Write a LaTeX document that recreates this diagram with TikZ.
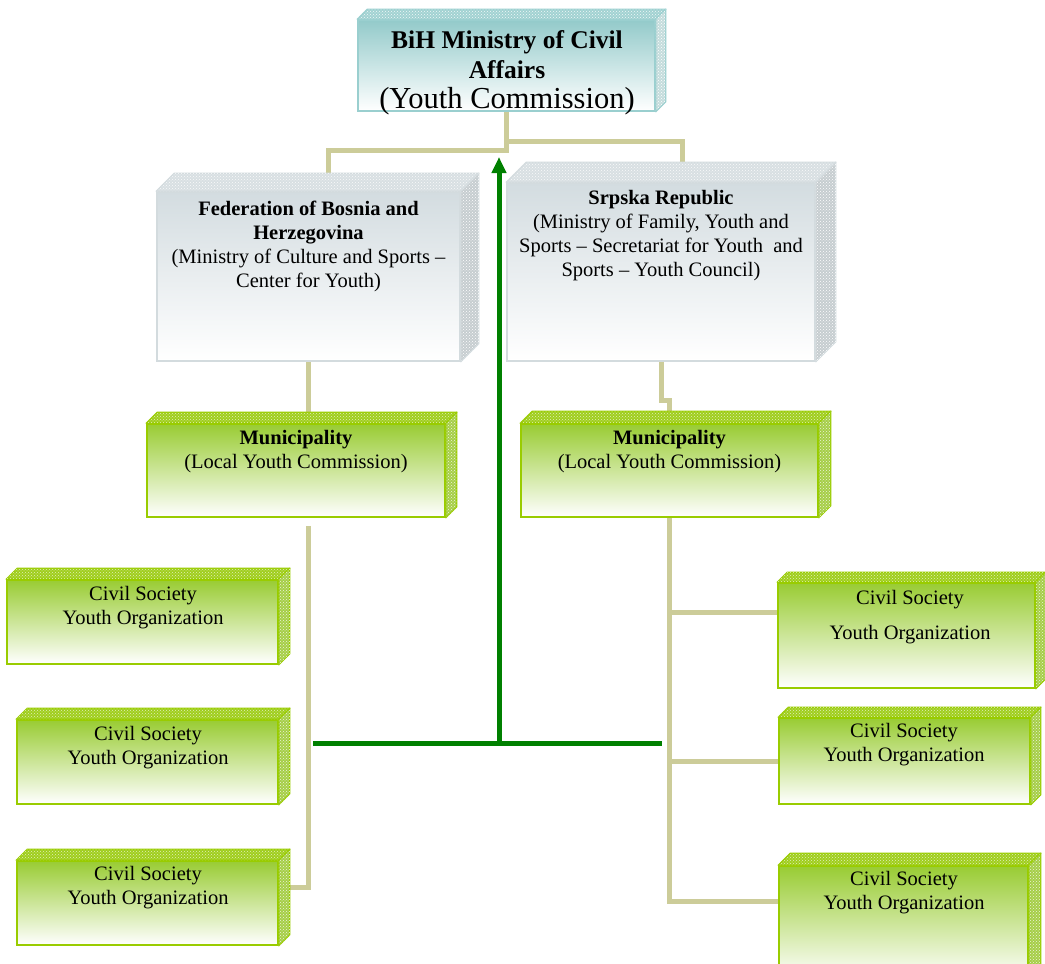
\documentclass[tikz,border=0pt]{standalone}
\usepackage{fontspec}
\setmainfont{Liberation Serif}
\usetikzlibrary{calc,arrows.meta,patterns,backgrounds}
\definecolor{conncol}{HTML}{CCCC99}
\definecolor{arrowgreen}{HTML}{008000}
\definecolor{tealtop}{HTML}{93CACA}
\definecolor{tealedge}{HTML}{9ACFCF}
\definecolor{tealface}{HTML}{A2D2D2}
\definecolor{tealside}{HTML}{C4DCDC}
\definecolor{graytop}{HTML}{D3DCE0}
\definecolor{grayedge}{HTML}{D3DBDE}
\definecolor{grayface}{HTML}{D8DFE2}
\definecolor{grayside}{HTML}{C6CDD0}
\definecolor{greentop}{HTML}{99CC33}
\definecolor{greenedge}{HTML}{99CC00}
\definecolor{greenface}{HTML}{A0CE1E}
\definecolor{greenside}{HTML}{A6CE48}
\tikzset{
  x=1pt, y=-1pt,
  conn/.style={draw=conncol, line width=5pt},
  garrow/.style={draw=arrowgreen, line width=5pt},
  tealbox/.style={draw=tealedge, line width=1.6pt, top color=tealtop, bottom color=white, inner sep=0pt},
  tealbox top/.style={draw=tealedge, line width=1.2pt, fill=tealface, line join=round, postaction={pattern=crosshatch dots, pattern color=white!85!tealface}},
  tealbox side/.style={draw=tealedge, line width=1.2pt, fill=tealside, line join=round, postaction={pattern=crosshatch dots, pattern color=white}},
  graybox/.style={draw=grayedge, line width=1.6pt, top color=graytop, bottom color=white, inner sep=0pt},
  graybox top/.style={draw=grayedge, line width=1.2pt, fill=grayface, line join=round, postaction={pattern=crosshatch dots, pattern color=white!85!grayface}},
  graybox side/.style={draw=grayedge, line width=1.2pt, fill=grayside, line join=round, postaction={pattern=crosshatch dots, pattern color=white}},
  greenbox/.style={draw=greenedge, line width=1.6pt, top color=greentop, bottom color=white, inner sep=0pt},
  greenbox top/.style={draw=greenedge, line width=1.2pt, fill=greenface, line join=round, postaction={pattern=crosshatch dots, pattern color=white!70!greenface}},
  greenbox side/.style={draw=greenedge, line width=1.2pt, fill=greenside, line join=round, postaction={pattern=crosshatch dots, pattern color=white!80!greenside}},
  txt/.style={align=center, font=\fontsize{20.5}{24}\selectfont, inner sep=0pt},
}
\newcommand\threedbox[7]{%
  \node[#6, minimum width=#4pt, minimum height=#5pt] (#1) at (#2,#3) {};
  \path[#6 top] (#1.north west) -- ++(#7,-#7) -- ($(#1.north east)+(#7,-#7)$) -- (#1.north east) -- cycle;
  \path[#6 side] (#1.north east) -- ++(#7,-#7) -- ($(#1.south east)+(#7,-#7)$) -- (#1.south east) -- cycle;
}
\begin{document}
\begin{tikzpicture}
\useasboundingbox (0,0) rectangle (1045,964);
\clip (0,0) rectangle (1045,964);

% boxes
\threedbox{top}{506.5}{65.5}{297}{91}{tealbox}{10}
\threedbox{fed}{308.5}{276.5}{303}{169}{graybox}{18}
\threedbox{srp}{661}{272}{308}{178}{graybox}{20}
\threedbox{munL}{296}{470.5}{298}{93}{greenbox}{11}
\threedbox{munR}{669.5}{470.5}{297}{93}{greenbox}{12}
\threedbox{csoL1}{142.5}{622}{271}{84}{greenbox}{11}
\threedbox{csoL2}{147.5}{762}{261}{84}{greenbox}{11}
\threedbox{csoL3}{147.5}{903}{261}{84}{greenbox}{11}
\threedbox{csoR1}{906.5}{635.5}{257}{105}{greenbox}{10}
\threedbox{csoR2}{904.5}{761}{251}{86}{greenbox}{10}
\threedbox{csoR3}{903.5}{923}{249}{114}{greenbox}{12}

% texts
\node[txt, font=\fontsize{25.5}{30}\selectfont\bfseries] (tTop1) at (507,55) {BiH Ministry of Civil\\Affairs};
\node[txt, font=\fontsize{30.5}{34}\selectfont] (tTop2) at (507,101) {(Youth Commission)};
\node[txt] (tFed) at (308.5,246) {\textbf{Federation of Bosnia and}\\\textbf{Herzegovina}\\(Ministry of Culture and Sports --\\Center for Youth)};
\node[txt] (tSrp) at (661,236) {\textbf{Srpska Republic}\\(Ministry of Family, Youth and\\Sports -- Secretariat for Youth\ \ and\\Sports -- Youth Council)};
\node[txt] (tMunL) at (296,452) {\textbf{Municipality}\\(Local Youth Commission)};
\node[txt] (tMunR) at (669.5,452) {\textbf{Municipality}\\(Local Youth Commission)};
\node[txt] (tL1) at (143,608) {Civil Society\\Youth Organization};
\node[txt] (tL2) at (148,748) {Civil Society\\Youth Organization};
\node[txt] (tL3) at (148,888) {Civil Society\\Youth Organization};
\node[txt] (tR1) at (910,617) {Civil Society\\[11pt]Youth Organization};
\node[txt] (tR2) at (904,745) {Civil Society\\Youth Organization};
\node[txt] (tR3) at (904,893) {Civil Society\\Youth Organization};

% connectors
\begin{scope}[on background layer]
  \fill[white] (0,0) rectangle (1045,964);
  \draw[conn] (top.south) -- ++(0,39) -| ([xshift=20pt]fed.north);
  \draw[conn] (top.south) -- ++(0,30) -| ([xshift=21pt]srp.north);
  \draw[conn] (fed.south) -- (fed.south |- munL.north);
  \draw[conn] (srp.south) -- ++(0,39) -| (munR.north);
  \draw[conn] ([xshift=12pt,yshift=-8pt]munL.south) |- ([yshift=16pt]csoL3.east);
  \draw[conn] (munR.south) |- ([yshift=22pt]csoR3.west);
  \coordinate (r1) at ([yshift=23.5pt]csoR1.west);
  \coordinate (r2) at (csoR2.west);
  \draw[conn] (r1 -| munR.south) -- (r1);
  \draw[conn] (r2 -| munR.south) -- (r2);
\end{scope}

% green arrow
\coordinate (gL) at (313,743);
\coordinate (gR) at (662,743);
\coordinate (gM) at (499,743);
\coordinate (gT) at (499,157);
\draw[garrow] (gL) -- (gR);
\draw[garrow, -{Triangle[width=14pt,length=16pt]}] (gM) -- (gT);
\end{tikzpicture}
\end{document}
